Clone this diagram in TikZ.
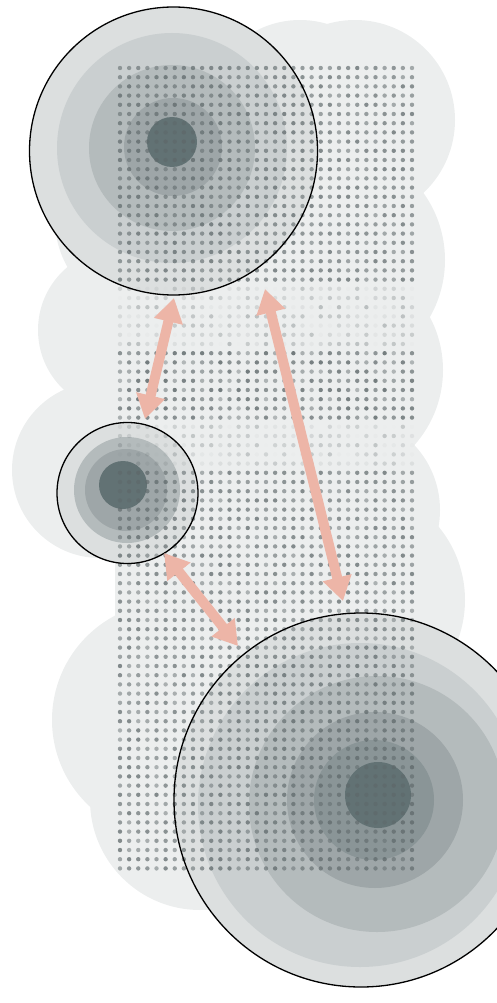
\documentclass[tikz,border=0pt]{standalone}
\usetikzlibrary{arrows.meta}
\definecolor{cloudc}{HTML}{ECEEEE}
\definecolor{dotc}{HTML}{5E686A}
\definecolor{arrc}{HTML}{EDB5A7}
\definecolor{lA}{HTML}{DCDFDF}
\definecolor{lB}{HTML}{CACFD0}
\definecolor{lC}{HTML}{B4BBBC}
\definecolor{lD}{HTML}{9EA6A8}
\definecolor{lE}{HTML}{8A9597}
\definecolor{lF}{HTML}{627274}
\tikzset{
  cloud/.style={fill=cloudc},
  ring/.style={circle, draw=black, line width=1.3pt, inner sep=0pt},
  link/.style={arrc, line width=10pt,
    {Triangle[width=28pt,length=24pt]}-{Triangle[width=28pt,length=24pt]}},
}
\begin{document}
\begin{tikzpicture}[x=1pt,y=-1pt]
\useasboundingbox (0,0) rectangle (496,1003);
% speckled cloud background
\begin{scope}[cloud]
\fill (355,120) circle[radius=100];
\fill (300,115) circle[radius=95];
\fill (330,260) circle[radius=115];
\fill (330,370) circle[radius=113];
\fill (120,330) circle[radius=82];
\fill (150,220) circle[radius=95];
\fill (100,470) circle[radius=88];
\fill (345,510) circle[radius=95];
\fill (350,600) circle[radius=115];
\fill (170,720) circle[radius=118];
\fill (200,800) circle[radius=110];
\fill (300,790) circle[radius=110];
\fill (115,60) rectangle (415,850);
\end{scope}
% top circle layers
\fill[lA] (173.5,151) circle[radius=144];
\fill[lB] (172,148) circle[radius=115];
\fill[lC] (172,148) circle[radius=83];
\fill[lD] (173,147) circle[radius=49];
\fill[lF] (172,142) circle[radius=25];
% small circle layers
\fill[lA] (127.5,493) circle[radius=70.5];
\fill[lC] (127,490) circle[radius=53];
\fill[lD] (126,490) circle[radius=41];
\fill[lF] (123,485) circle[radius=24];
% big circle layers
\fill[lA] (361,800) circle[radius=187];
\fill[lB] (360,805) circle[radius=162];
\fill[lC] (377,804) circle[radius=128];
\fill[lD] (375,800) circle[radius=88];
\fill[lE] (374,800) circle[radius=60];
\fill[lF] (378,795) circle[radius=33];
% dot grid
\pgfmathsetseed{42}
\foreach \i in {0,...,32}{
  \foreach \j in {0,...,87}{
    \pgfmathsetmacro\px{120+\i*9.125}
    \pgfmathsetmacro\py{68+\j*9.2}
    \pgfmathsetmacro\rr{rnd}
    \pgfmathsetmacro\op{\py<285 ? 0.5+0.25*\rr : (\py<345 ? 0.35*\rr : (\py<420 ? 0.4+0.45*\rr : (\py<465 ? 0.3*\rr : 0.45+0.3*\rr)))}
    \fill[dotc,opacity=\op] (\px,\py) circle[radius=2.2];
  }
}
% outlined circles
\node[ring, minimum size=288pt] (top) at (173.5,151) {};
\node[ring, minimum size=141pt] (small) at (127.5,493) {};
\node[ring, minimum size=374pt] (big) at (361,800) {};
% arrow end points
\coordinate (a1) at (174,298);
\coordinate (a2) at (145,419);
\coordinate (b1) at (265,289);
\coordinate (b2) at (343,601);
\coordinate (c1) at (164,553);
\coordinate (c2) at (238,646);
\draw[link] (a1) -- (a2);
\draw[link] (b1) -- (b2);
\draw[link] (c1) -- (c2);
\end{tikzpicture}
\end{document}
